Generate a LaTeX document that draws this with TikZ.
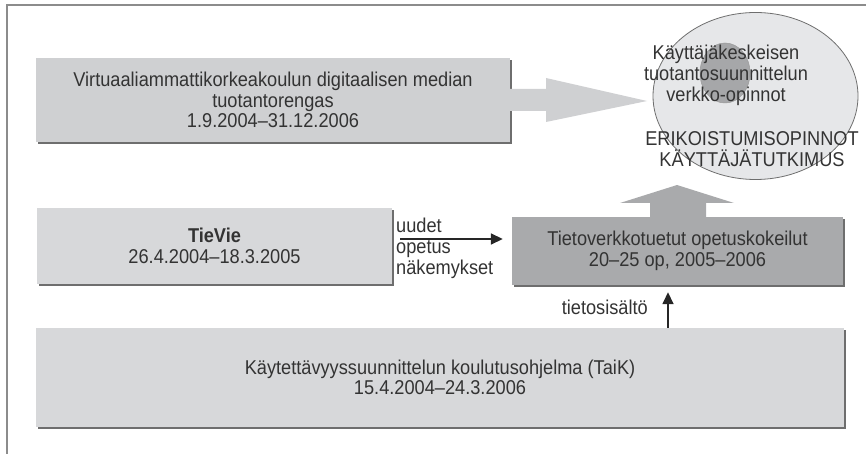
\documentclass[tikz,border=0pt]{standalone}
\usepackage{fontspec}
\setmainfont{Liberation Sans}[FakeStretch=0.91]
\usetikzlibrary{arrows.meta,shapes.geometric,shadows}

\definecolor{txt}{HTML}{333333}
\definecolor{boxfill}{HTML}{D7D8DA}
\definecolor{virtfill}{HTML}{CFD0D2}
\definecolor{darkfill}{HTML}{A9AAAC}
\definecolor{ellfill}{HTML}{E6E7E9}
\definecolor{corefill}{HTML}{A6A7A9}
\definecolor{shade}{HTML}{6E6E6E}
\definecolor{framecol}{HTML}{8C8C8C}

\tikzset{
  panel/.style={rectangle, inner sep=0pt, align=center, text=txt,
    font=\fontsize{20}{20.5}\selectfont,
    drop shadow={shadow xshift=2pt, shadow yshift=-2pt, opacity=1, fill=shade}},
  lbl/.style={inner sep=0pt, text=txt, font=\fontsize{20}{21}\selectfont},
  flow/.style={line width=1.6pt, draw=black!85,
    -{Triangle[length=12pt, width=11pt]}},
}

\begin{document}
\begin{tikzpicture}[x=1pt, y=-1pt]
  \useasboundingbox (0,0) rectangle (866,454);

  % outer frame (top and left edges)
  \draw[framecol, line width=1.6pt] (866,5) -- (7,5) -- (7,454);

  % production ring box and its wide arrow
  \node[panel, fill=virtfill, minimum width=474pt, minimum height=84pt]
    (virt) at (273,100)
    {Virtuaaliammattikorkeakoulun digitaalisen median\\tuotantorengas\\1.9.2004--31.12.2006};
  \fill[virtfill] (507,89) -- (546,89) -- (546,78) -- (647,101)
    -- (546,122) -- (546,111) -- (507,111) -- cycle;

  % target studies: outer ellipse with its darker core
  \node[ellipse, draw=shade, line width=0.8pt, fill=ellfill,
        minimum width=205pt, minimum height=167pt, inner sep=0pt]
    (ell) at (755.5,96) {};
  \filldraw[fill=corefill, draw=shade!70, line width=0.5pt]
    (725,73) ellipse [x radius=25, y radius=30];
  \node[lbl, align=center] (verkko) at (726,75)
    {Käyttäjäkeskeisen\\tuotantosuunnittelun\\verkko-opinnot};
  \node[lbl, align=center] (erik) at (752,149)
    {ERIKOISTUMISOPINNOT\\KÄYTTÄJÄTUTKIMUS};

  % TieVie
  \node[panel, fill=boxfill, minimum width=355pt, minimum height=76pt]
    (tievie) at (214.5,246)
    {\textbf{TieVie}\\26.4.2004--18.3.2005};

  % wide upward arrow into the ellipse
  \fill[darkfill] (650,222) -- (650,203) -- (620,203) -- (677,185)
    -- (734,203) -- (706,203) -- (706,222) -- cycle;

  % network-supported teaching experiments
  \node[panel, fill=darkfill, minimum width=331pt, minimum height=68pt]
    (tvk) at (677.5,251)
    {Tietoverkkotuetut opetuskokeilut\\20--25 op, 2005--2006};

  % usability training programme
  \node[panel, fill=boxfill, minimum width=808pt, minimum height=99pt]
    (taik) at (440,377.5)
    {Käytettävyyssuunnittelun koulutusohjelma (TaiK)\\15.4.2004--24.3.2006};

  % connectors and their labels
  \coordinate (ua) at ([shift={(8,-7)}]tievie.east);
  \draw[flow, shorten >=9pt] (ua) -- (ua -| tvk.west);
  \node[lbl, align=left, anchor=west] (uudet) at (396,248)
    {uudet\\opetus\\näkemykset};

  \coordinate (ts) at ([xshift=228pt]taik.north);
  \draw[flow, shorten >=7pt] (ts) -- (ts |- tvk.south);
  \node[lbl, anchor=east] (tieto) at (648,307) {tietosisältö};
\end{tikzpicture}
\end{document}
